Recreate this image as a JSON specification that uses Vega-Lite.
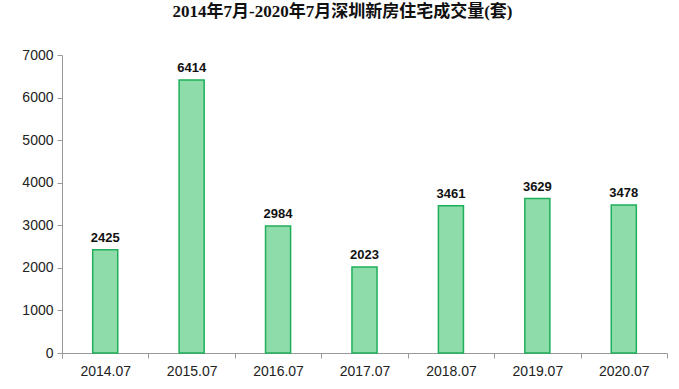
{
  "$schema": "https://vega.github.io/schema/vega-lite/v6.json",
  "width": 605,
  "height": 298,
  "autosize": {"type": "none"},
  "padding": {"left": 62, "top": 55, "right": 12, "bottom": 36},
  "background": "white",
  "title": {
    "text": "2014年7月-2020年7月深圳新房住宅成交量(套)",
    "font": "Liberation Serif, Noto Sans CJK SC",
    "fontSize": 17,
    "fontWeight": "bold",
    "color": "#111",
    "anchor": "middle",
    "frame": "group",
    "dx": -22,
    "offset": 27
  },
  "config": {"view": {"stroke": null}},
  "data": {
    "values": [
      {"month": "2014.07", "value": 2425},
      {"month": "2015.07", "value": 6414},
      {"month": "2016.07", "value": 2984},
      {"month": "2017.07", "value": 2023},
      {"month": "2018.07", "value": 3461},
      {"month": "2019.07", "value": 3629},
      {"month": "2020.07", "value": 3478}
    ]
  },
  "encoding": {
    "x": {
      "field": "month",
      "type": "nominal",
      "sort": null,
      "scale": {"paddingInner": 0, "paddingOuter": 0},
      "axis": {
        "title": null,
        "labelAngle": 0,
        "labelFont": "Liberation Sans, Arial",
        "labelFontSize": 14,
        "labelColor": "#222",
        "labelPadding": 6,
        "domainColor": "#999",
        "tickColor": "#999",
        "tickBand": "extent",
        "tickSize": 5
      }
    },
    "y": {
      "field": "value",
      "type": "quantitative",
      "scale": {"domain": [0, 7000]},
      "axis": {
        "title": null,
        "values": [0, 1000, 2000, 3000, 4000, 5000, 6000, 7000],
        "format": "d",
        "grid": false,
        "labelFont": "Liberation Sans, Arial",
        "labelFontSize": 14,
        "labelColor": "#222",
        "labelPadding": 4,
        "domainColor": "#999",
        "tickColor": "#999",
        "tickSize": 5
      }
    }
  },
  "layer": [
    {
      "mark": {"type": "bar", "width": {"band": 0.29}, "fill": "#8fdcab", "stroke": "#1fae5a", "strokeWidth": 1.5}
    },
    {
      "mark": {"type": "text", "baseline": "bottom", "dy": -5, "font": "Liberation Sans, Arial", "fontSize": 13, "fontWeight": "bold", "color": "#111"},
      "encoding": {"text": {"field": "value", "type": "quantitative"}}
    }
  ]
}
